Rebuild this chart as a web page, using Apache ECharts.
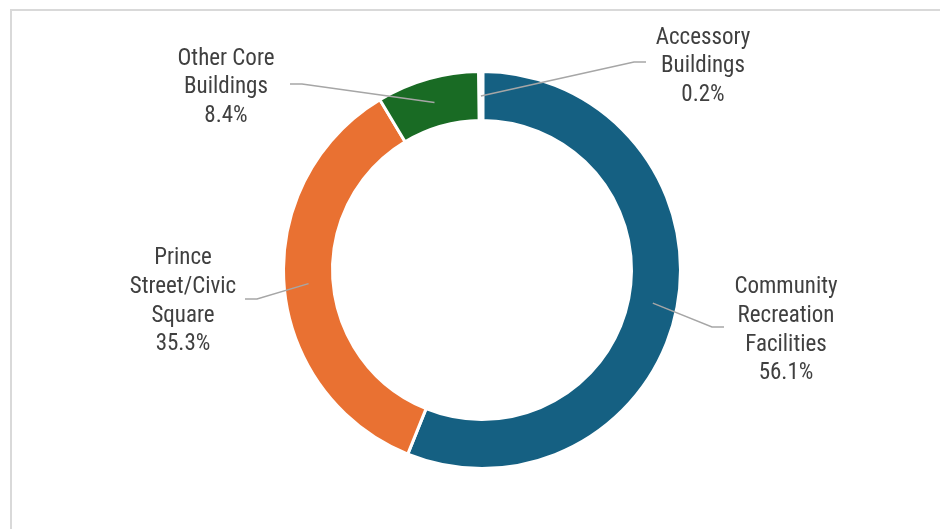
<!DOCTYPE html>
<html>
<head>
<meta charset="utf-8">
<script src="https://cdn.jsdelivr.net/npm/echarts@6/dist/echarts.min.js"></script>
<style>
  html, body { margin: 0; padding: 0; background: #ffffff; }
  #chart { width: 940px; height: 529px; }
</style>
</head>
<body>
<div id="chart"></div>
<script>
// Share of spending by facility group (percent)
const categories = [
  'Community\nRecreation\nFacilities',
  'Prince\nStreet/Civic\nSquare',
  'Other Core\nBuildings',
  'Accessory\nBuildings'
];
const shares = [56.1, 35.3, 8.4, 0.2];
const colors = ['#156082', '#E97132', '#196B24', '#0F9ED5'];

// Where each label sits (centre of the text block) and where its leader line ends
const labelCentres = [[786, 330.5], [183, 301.5], [226, 87.5], [703, 66.5]];
const lineEnds = [[724, 327], [245, 299], [290, 84], [646, 62]];

const CX = 482, CY = 270, R_IN = 149.5, R_OUT = 198.5;
const R_MID = (R_IN + R_OUT) / 2;

const ringData = categories.map((name, i) => ({
  name: name,
  value: shares[i],
  itemStyle: { color: colors[i], borderWidth: shares[i] < 1 ? 5 : 3 }
}));
const labelData = categories.map((name, i) => ({ name: name, value: shares[i] }));

const fontStack = "'Roboto Condensed', 'Liberation Sans Narrow', 'DejaVu Sans Condensed', 'Roboto', sans-serif";

const chart = echarts.init(document.getElementById('chart'), null, { renderer: 'canvas' });

chart.setOption({
  backgroundColor: '#ffffff',
  animation: false,
  graphic: [{
    type: 'rect',
    shape: { x: 11, y: 10, width: 1000, height: 600 },
    style: { fill: 'none', stroke: '#d9d9d9', lineWidth: 2 },
    silent: true
  }],
  series: [
    {
      // the ring itself
      type: 'pie',
      center: [CX, CY],
      radius: [R_IN, R_OUT],
      startAngle: 90,
      clockwise: true,
      avoidLabelOverlap: false,
      label: { show: false },
      labelLine: { show: false },
      itemStyle: { borderColor: '#ffffff', borderWidth: 3 },
      emphasis: { disabled: true },
      data: ringData
    },
    {
      // invisible companion pie whose edge is the middle of the ring,
      // so the leader lines start inside each segment
      type: 'pie',
      center: [CX, CY],
      radius: [0, R_MID],
      startAngle: 90,
      clockwise: true,
      silent: true,
      z: 5,
      avoidLabelOverlap: false,
      itemStyle: { color: 'rgba(0,0,0,0)', borderWidth: 0 },
      emphasis: { disabled: true },
      label: {
        show: true,
        position: 'outside',
        formatter: p => p.name + '\n' + p.value.toFixed(1) + '%',
        color: '#404040',
        fontFamily: fontStack,
        fontSize: 23,
        lineHeight: 28.7,
        align: 'center'
      },
      labelLine: {
        show: true,
        length: 20,
        length2: 10,
        lineStyle: { color: '#a6a6a6', width: 1.5 }
      },
      labelLayout: function (params) {
        const i = params.dataIndex;
        const start = params.labelLinePoints ? params.labelLinePoints[0] : [CX, CY];
        const end = lineEnds[i];
        const dir = end[0] > start[0] ? 1 : -1;
        const bend = [end[0] - dir * 12, end[1]];
        return {
          x: labelCentres[i][0],
          y: labelCentres[i][1],
          align: 'center',
          verticalAlign: 'middle',
          labelLinePoints: [start, bend, end]
        };
      },
      data: labelData
    }
  ]
});
</script>
</body>
</html>
